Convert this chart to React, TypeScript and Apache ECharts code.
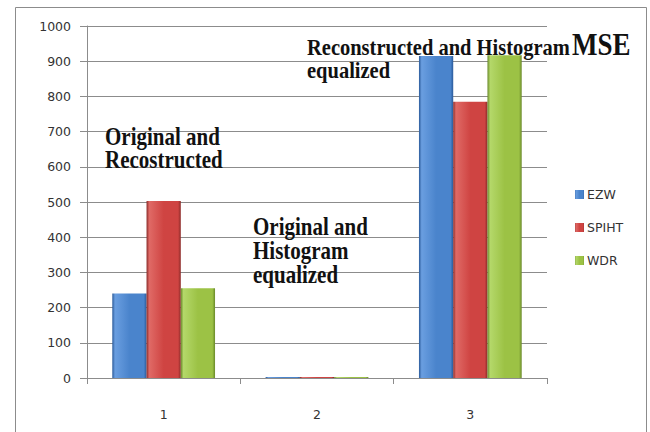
import React, { useEffect, useRef } from "react";
import * as echarts from "echarts";

const categories = ["1", "2", "3"];
const seriesNames = ["EZW", "SPIHT", "WDR"];
const ezwValues = [240, 3, 915];
const spihtValues = [503, 3, 785];
const wdrValues = [255, 3, 917];
const yTicks = { min: 0, max: 1000, interval: 100 };

const grad = (dark: string, mid: string, light: string) =>
  new echarts.graphic.LinearGradient(0, 0, 1, 0, [
    { offset: 0, color: dark },
    { offset: 0.08, color: light },
    { offset: 0.5, color: mid },
    { offset: 0.92, color: mid },
    { offset: 1, color: dark },
  ]);

const serif = '"Liberation Serif", "Times New Roman", serif';

function txt(text: string, x: number, y: number, size: number, sy: number) {
  return {
    type: "text",
    x,
    y,
    scaleY: sy,
    style: {
      text,
      x: 0,
      y: 0,
      fill: "#111",
      font: `bold ${size}px ${serif}`,
      verticalAlign: "middle",
      align: "left",
    },
    z: 100,
  };
}

export default function App() {
  const ref = useRef<HTMLDivElement>(null);
  useEffect(() => {
    if (!ref.current) return;
    const chart = echarts.init(ref.current, undefined, { renderer: "svg" });
    const colors = [
      grad("#2a5a9a", "#4a84cc", "#6a9ee0"),
      grad("#8a2a28", "#cf4442", "#e06a66"),
      grad("#6a8a2a", "#9cc245", "#b4d86a"),
    ];
    const vals = [ezwValues, spihtValues, wdrValues];
    chart.setOption({
      animation: false,
      backgroundColor: "#fff",
      grid: { left: 87, right: 103, top: 26, bottom: 54, containLabel: false },
      legend: {
        orient: "vertical",
        left: 570,
        top: 183,
        itemWidth: 9,
        itemHeight: 9,
        itemGap: 20,
        icon: "rect",
        textStyle: { fontFamily: "DejaVu Sans", fontSize: 12.5, color: "#333", padding: [0, 0, 0, -2] },
        data: seriesNames,
      },
      xAxis: {
        type: "category",
        data: categories,
        axisLine: { lineStyle: { color: "#8c8c8c" } },
        axisTick: { show: true, length: 6, lineStyle: { color: "#8c8c8c" } },
        axisLabel: { margin: 30, fontFamily: "DejaVu Sans", fontSize: 12.5, color: "#333" },
      },
      yAxis: {
        type: "value",
        min: yTicks.min,
        max: yTicks.max,
        interval: yTicks.interval,
        axisLine: { show: true, lineStyle: { color: "#8c8c8c" } },
        axisTick: { show: true, length: 7, lineStyle: { color: "#8c8c8c" } },
        axisLabel: {
          margin: 16,
          fontFamily: "DejaVu Sans",
          fontSize: 12.5,
          color: "#333",
          formatter: (v: number) => String(v),
        },
        splitLine: { lineStyle: { color: "#8c8c8c" } },
      },
      series: seriesNames.map((name, i) => ({
        name,
        type: "bar",
        data: vals[i],
        barGap: "0%",
        barCategoryGap: "33%",
        itemStyle: { color: colors[i] },
      })),
      graphic: [
        {
          type: "rect",
          shape: { x: 15.5, y: 7.5, width: 631, height: 440 },
          style: { fill: "none", stroke: "#8c8c8c", lineWidth: 1 },
          silent: true,
          z: 0,
        },
        txt("Original and", 105, 137, 21, 1.15),
        txt("Recostructed", 105, 160, 21, 1.15),
        txt("Original and", 253, 227, 21, 1.15),
        txt("Histogram", 253, 251, 21, 1.15),
        txt("equalized", 253, 275, 21, 1.15),
        txt("Reconstructed and Histogram", 307, 47, 20.5, 1.15),
        txt("equalized", 307, 70, 20.5, 1.15),
        txt("MSE", 572, 44, 27, 1.2),
      ],
    });
    return () => chart.dispose();
  }, []);
  return (
    <div
      ref={ref}
      style={{ position: "fixed", left: 0, top: 0, width: 650, height: 432, background: "#fff" }}
    />
  );
}
